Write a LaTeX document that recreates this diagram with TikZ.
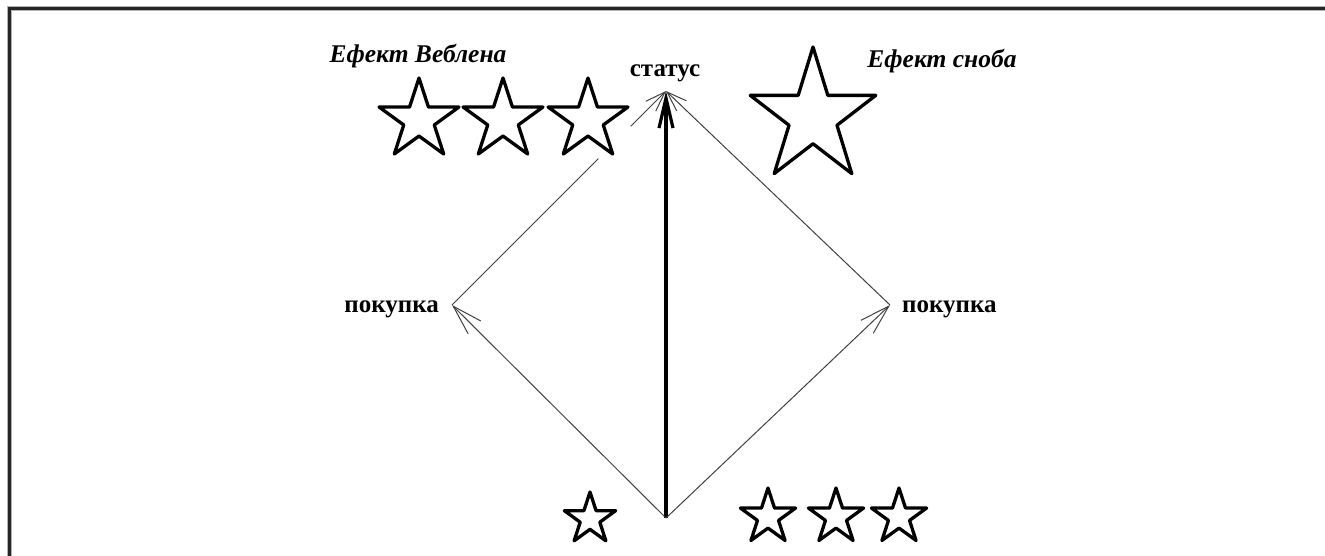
\documentclass[tikz,border=0pt]{standalone}
\usepackage{fontspec}
\setmainfont{Liberation Serif}
\usetikzlibrary{arrows.meta,calc}
\begin{document}
\begin{tikzpicture}[x=1pt,y=1pt,
  lbl/.style={font=\fontsize{25}{27}\selectfont\bfseries, inner sep=0pt},
  efx/.style={font=\fontsize{25.5}{27}\selectfont\bfseries\itshape, inner sep=0pt},
  thin arrow/.style={draw=black!75, line width=1pt},
  barb/.style={-{Straight Barb[length=30pt,width=18pt,line width=1pt]}},
  smallbarb/.style={-{Straight Barb[length=20pt,width=14pt,line width=1pt]}},
  mainarrow/.style={line width=3.2pt, -{Straight Barb[length=30pt,width=14pt,line width=3.2pt]}},
  starpic/.pic={\draw[line width=3.3pt, line join=round, black]
     (90:1) -- (126:0.382) -- (162:1) -- (198:0.382) -- (234:1) -- (270:0.382)
     -- (306:1) -- (342:0.382) -- (18:1) -- (54:0.382) -- cycle;}
]
\useasboundingbox (0,0) rectangle (1325,-555);
% frame
\draw[black!30, line width=5pt] (9,-560) -- (9,-8) -- (1330,-8);
\draw[black!85, line width=3pt] (9,-560) -- (9,-8) -- (1330,-8);

% points
\coordinate (apex) at (666,-91);
\coordinate (bottom) at (666,-518);
\coordinate (pL) at (452,-305);
\coordinate (pR) at (890,-305);
\coordinate (gapA) at ($(pL)!0.684!(apex)$);
\coordinate (gapB) at ($(pL)!0.835!(apex)$);

% labels
\node[efx] (veblen) at (418,-56) {Ефект Веблена};
\node[efx] (snob) at (942,-61) {Ефект сноба};
\node[lbl] (status) at (665,-73) {статус};
\node[lbl, anchor=east] (buyL) at (439,-309) {покупка};
\node[lbl, anchor=west] (buyR) at (902,-309) {покупка};

% stars
\pic (s1) at (419,-120) [scale=42] {starpic};
\pic (s2) at (503,-120) [scale=42] {starpic};
\pic (s3) at (588,-120) [scale=42] {starpic};
\pic (sbig) at (813,-117) [xscale=66,yscale=70] {starpic};
\pic (sb1) at (590,-519) [scale=27] {starpic};
\pic (sb2) at (768,-517) [scale=29] {starpic};
\pic (sb3) at (836,-517) [scale=29] {starpic};
\pic (sb4) at (899,-517) [scale=29] {starpic};

% connectors
\draw[mainarrow] (bottom) -- (apex);
\draw[thin arrow, barb] (bottom) -- (pL);
\draw[thin arrow, barb] (bottom) -- (pR);
\draw[thin arrow] (pL) -- (gapA);
\draw[thin arrow, smallbarb] (gapB) -- (apex);
\draw[thin arrow, smallbarb] (pR) -- (apex);
\end{tikzpicture}
\end{document}
